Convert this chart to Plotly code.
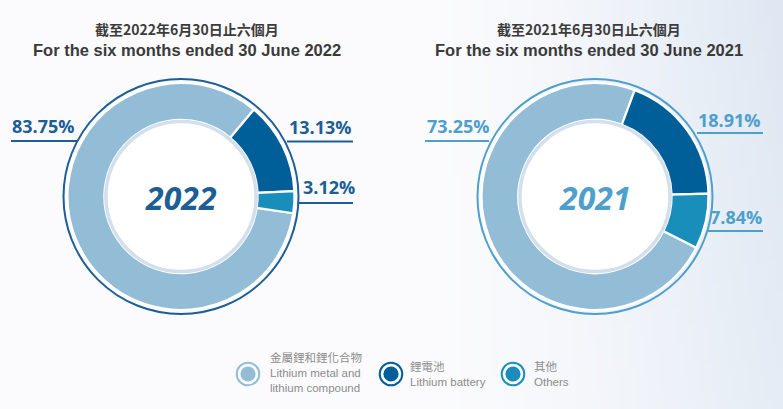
import base64
import math
import struct
import zlib

import plotly.graph_objects as go

# ---------------- data ----------------
categories_zh = ["金屬鋰和鋰化合物", "鋰電池", "其他"]
categories_en = [["Lithium metal and", "lithium compound"], ["Lithium battery"], ["Others"]]
years = ["2022", "2021"]
share_2022 = [83.75, 13.13, 3.12]
share_2021 = [73.25, 18.91, 7.84]
titles_zh = ["截至2022年6月30日止六個月", "截至2021年6月30日止六個月"]
titles_en = ["For the six months ended 30 June 2022", "For the six months ended 30 June 2021"]

# ---------------- style / layout ----------------
W, H = 783, 409
slice_colors = ["#93BDD7", "#005E99", "#1A8EBB"]
panel_colors = ["#1C5E95", "#4E9FCC"]        # border, labels, centre text
R_OUT = 113.5
HOLE = 0.675
panels = [
    dict(cx=181, cy=196.5, battery_start=40.0, title_cx=187,
         labels=[(10, "left", 125.5, 11, 77, 141),
                 (354, "right", 126.5, 287, 353, 141.5),
                 (357, "right", 187.0, 298, 353, 203)]),
    dict(cx=595, cy=196.5, battery_start=20.5, title_cx=589,
         labels=[(425, "left", 125.5, 425, 489, 141),
                 (763, "right", 120.0, 697, 763, 133),
                 (764, "right", 217.0, 707, 763, 231)]),
]
legend_items = [
    dict(cx=248, cy=374, tx=268, ty=372),
    dict(cx=391, cy=374, tx=408, ty=374),
    dict(cx=513, cy=374, tx=532, ty=374),
]


def gradient_png(w, h):
    rows = []
    for j in range(h):
        fy = j / (h - 1)
        row = bytearray()
        for i in range(w):
            fx = i / (w - 1)
            t = max(0.0, (fx - 0.55) / 0.45) ** 1.4
            t *= 0.75 + 0.25 * (1 - fy)
            base = (251, 251, 253)
            tgt = (222, 231, 242)
            for k in range(3):
                row.append(int(round(base[k] * (1 - t) + tgt[k] * t)))
        rows.append(b"\x00" + bytes(row))
    raw = b"".join(rows)

    def chunk(tag, data):
        c = struct.pack(">I", len(data)) + tag + data
        return c + struct.pack(">I", zlib.crc32(tag + data) & 0xFFFFFFFF)

    png = b"\x89PNG\r\n\x1a\n"
    png += chunk(b"IHDR", struct.pack(">IIBBBBB", w, h, 8, 2, 0, 0, 0))
    png += chunk(b"IDAT", zlib.compress(raw, 9))
    png += chunk(b"IEND", b"")
    return "data:image/png;base64," + base64.b64encode(png).decode()


fig = go.Figure()
fig.add_trace(go.Scatter(x=[], y=[], showlegend=False, hoverinfo="skip"))

shapes = []
annotations = []
all_shares = [share_2022, share_2021]

for p, (panel, shares, year) in enumerate(zip(panels, all_shares, years)):
    cx, cy = panel["cx"], panel["cy"]
    total = sum(shares)
    rotation = panel["battery_start"] + 360.0 * (shares[1] + shares[2]) / total
    fig.add_trace(go.Pie(
        values=shares,
        labels=[z for z in categories_zh],
        sort=False,
        direction="clockwise",
        rotation=rotation,
        hole=HOLE,
        marker=dict(colors=slice_colors, line=dict(color="white", width=2.2)),
        textinfo="none",
        showlegend=False,
        hoverinfo="label+percent",
        domain=dict(x=[(cx - R_OUT) / W, (cx + R_OUT) / W],
                    y=[1 - (cy + R_OUT) / H, 1 - (cy - R_OUT) / H]),
    ))
    col = panel_colors[p]
    # outer border ring
    rb = 117.5
    shapes.append(dict(type="circle", xref="x", yref="y", x0=cx - rb, x1=cx + rb,
                       y0=cy - rb, y1=cy + rb, line=dict(color=col, width=2)))
    # inner hole ring
    rh = R_OUT * HOLE - 1.5
    shapes.append(dict(type="circle", xref="x", yref="y", x0=cx - rh, x1=cx + rh,
                       y0=cy - rh, y1=cy + rh, line=dict(color="#D3DFEB", width=3.5),
                       fillcolor="white"))
    # centre year
    annotations.append(dict(x=cx, y=cy + 1, xref="x", yref="y", text=year, showarrow=False,
                            font=dict(family="Open Sans", size=32, color=col,
                                      weight="bold", style="italic"),
                            xanchor="center", yanchor="middle"))
    # labels + leader lines
    for v, (tx, anc, ty, lx0, lx1, ly) in zip(shares, panel["labels"]):
        annotations.append(dict(x=tx, y=ty, xref="x", yref="y", text=f"{v:.2f}%",
                                showarrow=False, xanchor=anc, yanchor="middle",
                                font=dict(family="Open Sans", size=18, color=col, weight="bold")))
        shapes.append(dict(type="line", xref="x", yref="y", x0=lx0, x1=lx1, y0=ly, y1=ly,
                           line=dict(color=col, width=2)))
    # titles
    annotations.append(dict(x=panel["title_cx"], y=29, xref="x", yref="y", text=titles_zh[p],
                            showarrow=False, xanchor="center", yanchor="middle",
                            font=dict(family="Noto Sans CJK TC", size=14, color="#3C3C3C",
                                      weight="bold")))
    annotations.append(dict(x=panel["title_cx"], y=50, xref="x", yref="y", text=titles_en[p],
                            showarrow=False, xanchor="center", yanchor="middle",
                            font=dict(family="Liberation Sans", size=16.5, color="#3A3A3A",
                                      weight="bold")))

# legend
for item, zh, en, col in zip(legend_items, categories_zh, categories_en, slice_colors):
    cx, cy = item["cx"], item["cy"]
    ro, ri = 11.3, 7.6
    shapes.append(dict(type="circle", xref="x", yref="y", x0=cx - ro, x1=cx + ro,
                       y0=cy - ro, y1=cy + ro, line=dict(color=col, width=2),
                       fillcolor="white"))
    shapes.append(dict(type="circle", xref="x", yref="y", x0=cx - ri, x1=cx + ri,
                       y0=cy - ri, y1=cy + ri, line=dict(width=0), fillcolor=col))
    text = "<br>".join([zh] + en)
    annotations.append(dict(x=item["tx"], y=item["ty"], xref="x", yref="y", text=text,
                            showarrow=False, xanchor="left", yanchor="middle", align="left",
                            font=dict(family="Liberation Sans, Noto Sans CJK TC", size=11.5,
                                      color="#8C8C8C")))

fig.update_layout(
    width=W, height=H,
    margin=dict(l=0, r=0, t=0, b=0),
    paper_bgcolor="white", plot_bgcolor="rgba(0,0,0,0)",
    xaxis=dict(range=[0, W], visible=False, fixedrange=True),
    yaxis=dict(range=[H, 0], visible=False, fixedrange=True),
    shapes=shapes,
    annotations=annotations,
    images=[dict(source=gradient_png(160, 84), xref="paper", yref="paper",
                 x=0, y=1, sizex=1, sizey=1, sizing="stretch",
                 xanchor="left", yanchor="top", layer="below")],
    showlegend=False,
)

fig.write_html("out.html")
